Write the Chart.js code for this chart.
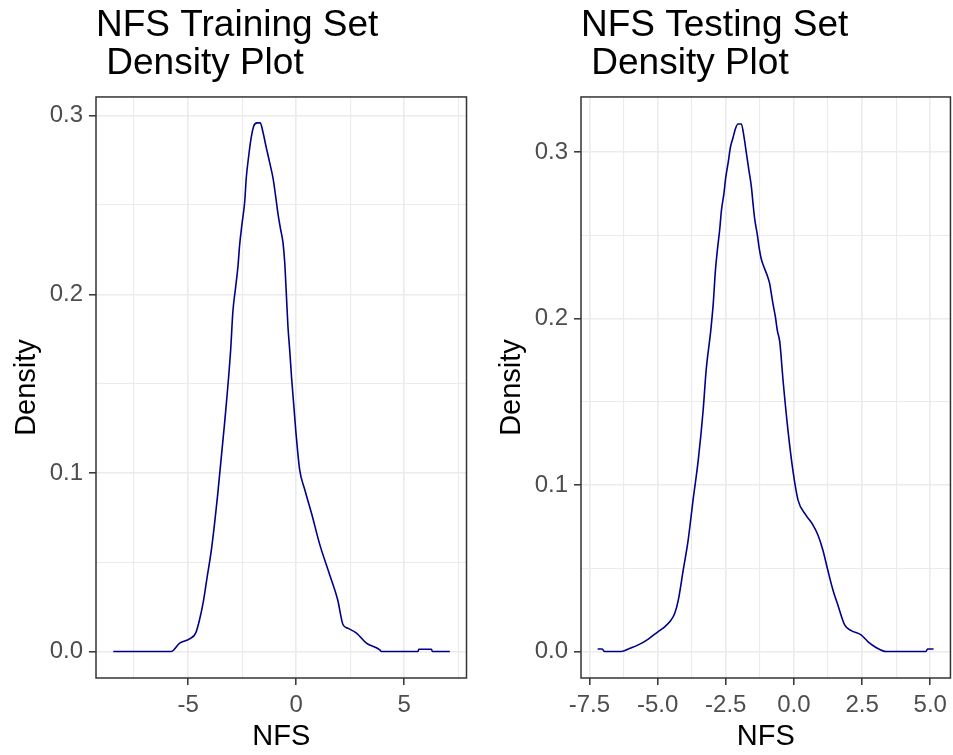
<!DOCTYPE html>
<html>
<head>
<meta charset="utf-8">
<script src="https://cdn.jsdelivr.net/npm/chart.js@4.4.1/dist/chart.umd.min.js"></script>
<style>
  html, body { margin: 0; padding: 0; background: #ffffff; }
  body { width: 953px; height: 755px; position: relative; overflow: hidden; }
  .panel { position: absolute; top: 0; height: 755px; }
</style>
</head>
<body>
<div class="panel" style="left:0px;width:476px;"><canvas id="trainChart" width="476" height="755"></canvas></div>
<div class="panel" style="left:485px;width:468px;"><canvas id="testChart" width="468" height="755"></canvas></div>
<script>
// ---- Data ----
const trainTitle = ['NFS Training Set', ' Density Plot'];
const testTitle = ['NFS Testing Set', ' Density Plot'];
const xAxisLabel = 'NFS';
const yAxisLabel = 'Density';

const trainX = [-8.46, -5.78, -5.39, -4.93, -4.65, -4.47, -4.28, -4.14, -3.91, -3.63,
  -3.31, -3.03, -2.93, -2.80, -2.69, -2.62, -2.51, -2.38, -2.31, -2.19,
  -2.09, -1.97, -1.81, -1.66, -1.54, -1.38, -1.23, -1.07, -0.95, -0.84,
  -0.73, -0.61, -0.53, -0.45, -0.38, -0.30, -0.21, -0.02, 0.16, 0.39,
  0.72, 1.09, 1.55, 1.92, 2.17, 2.40, 2.79, 3.25, 3.87, 3.94,
  5.64, 5.67, 6.26, 6.30, 7.11];
const trainY = [0, 0, 0.0047, 0.0071, 0.0103, 0.0178, 0.029, 0.040, 0.058, 0.088,
  0.128, 0.169, 0.190, 0.204, 0.216, 0.227, 0.239, 0.252, 0.265, 0.278,
  0.287, 0.294, 0.296, 0.296, 0.291, 0.282, 0.274, 0.265, 0.255, 0.245,
  0.237, 0.229, 0.218, 0.199, 0.182, 0.169, 0.153, 0.124, 0.102, 0.091,
  0.077, 0.060, 0.043, 0.029, 0.015, 0.013, 0.0103, 0.0047, 0.001, 0,
  0, 0.0013, 0.0013, 0, 0];

const testX = [-7.20, -7.03, -6.95, -6.34, -6.01, -5.71, -5.34, -4.98, -4.73, -4.55,
  -4.37, -4.24, -4.06, -3.88, -3.70, -3.51, -3.33, -3.22, -3.05, -2.96,
  -2.88, -2.81, -2.72, -2.66, -2.57, -2.50, -2.41, -2.33, -2.23, -2.15,
  -2.05, -1.93, -1.83, -1.75, -1.66, -1.56, -1.50, -1.44, -1.34, -1.28,
  -1.20, -1.10, -0.98, -0.89, -0.83, -0.77, -0.68, -0.61, -0.52, -0.40,
  -0.22, -0.04, 0.15, 0.44, 0.70, 0.88, 1.06, 1.24, 1.43, 1.61,
  1.86, 2.10, 2.46, 2.71, 3.01, 3.38, 4.84, 4.90, 5.12];
const testY = [0.0015, 0.0015, 0, 0, 0.002, 0.004, 0.0075, 0.012, 0.015, 0.018,
  0.023, 0.031, 0.049, 0.067, 0.091, 0.115, 0.145, 0.169, 0.193, 0.209,
  0.229, 0.241, 0.254, 0.265, 0.275, 0.285, 0.294, 0.303, 0.309, 0.314,
  0.317, 0.317, 0.309, 0.300, 0.290, 0.279, 0.269, 0.260, 0.250, 0.243,
  0.236, 0.231, 0.226, 0.221, 0.215, 0.209, 0.201, 0.193, 0.186, 0.163,
  0.133, 0.109, 0.091, 0.082, 0.076, 0.070, 0.061, 0.049, 0.037, 0.028,
  0.016, 0.0126, 0.010, 0.006, 0.0024, 0, 0, 0.0015, 0.0015];

// Tick values (major = labelled, minor = grid only)
const trainXMajor = [-5, 0, 5];
const trainXMinor = [-7.5, -2.5, 2.5, 7.5];
const testXMajor = [-7.5, -5, -2.5, 0, 2.5, 5];
const testXMinor = [-6.25, -3.75, -1.25, 1.25, 3.75];
const yMajor = [0, 0.1, 0.2, 0.3];
const yMinor = [0.05, 0.15, 0.25];

// Axis ranges (ggplot default 5% expansion)
const trainXRange = [-9.26, 7.88];
const testXRange = [-7.81, 5.74];
const trainYRange = [-0.0148, 0.3105];
const testYRange = [-0.0159, 0.3332];

// ---- Styling ----
const FONT = "'Liberation Sans', Arial, Helvetica, sans-serif";
const LINE_COLOR = '#00008B';
const GRID_COLOR = '#EBEBEB';
const DARK = '#333333';
const TICK_TEXT = '#4D4D4D';

const panelBorder = {
  id: 'panelBorder',
  afterDraw(chart) {
    const {ctx, chartArea: a} = chart;
    ctx.save();
    ctx.strokeStyle = DARK;
    ctx.lineWidth = 1.5;
    ctx.strokeRect(a.left, a.top, a.right - a.left, a.bottom - a.top);
    ctx.restore();
  }
};

function isMajor(v, majors) {
  return majors.some(m => Math.abs(m - v) < 1e-9);
}

function makeAxis(opts) {
  const {axis, majors, minors, range, fmt, fitSize} = opts;
  const all = majors.concat(minors).sort((a, b) => a - b);
  const horizontal = axis === 'x';
  return {
    type: 'linear',
    position: horizontal ? 'bottom' : 'left',
    min: range[0],
    max: range[1],
    afterBuildTicks: (sc) => { sc.ticks = all.map(v => ({value: v})); },
    afterFit: (sc) => { if (horizontal) sc.height = fitSize; else sc.width = fitSize; },
    ticks: {
      autoSkip: false,
      maxRotation: 0,
      minRotation: 0,
      padding: horizontal ? 5.9 : 6,
      color: TICK_TEXT,
      font: {family: FONT, size: 24, lineHeight: 1.2},
      callback: (v) => isMajor(v, majors) ? fmt(v) : ''
    },
    grid: {
      drawOnChartArea: true,
      drawTicks: true,
      tickLength: 7,
      color: GRID_COLOR,
      lineWidth: (c) => (c.tick && isMajor(c.tick.value, majors)) ? 1.6 : 1.1,
      tickColor: (c) => (c.tick && isMajor(c.tick.value, majors)) ? DARK : 'rgba(0,0,0,0)',
      tickWidth: 1.5
    },
    border: {display: false},
    title: {
      display: true,
      text: horizontal ? xAxisLabel : yAxisLabel,
      color: '#000000',
      font: {family: FONT, size: 29, lineHeight: 1.2},
      padding: horizontal ? {top: 0, bottom: 0.6} : {top: 9.3, bottom: 0}
    }
  };
}

function makeChart(canvasId, titleLines, xs, ys, xMajor, xMinor, xRange, yRange, xFmt, padRight) {
  const points = xs.map((x, i) => ({x: x, y: ys[i]}));
  return new Chart(document.getElementById(canvasId), {
    type: 'line',
    data: {
      datasets: [{
        data: points,
        borderColor: LINE_COLOR,
        borderWidth: 1.6,
        pointRadius: 0,
        cubicInterpolationMode: 'monotone',
        fill: false
      }]
    },
    options: {
      responsive: false,
      maintainAspectRatio: false,
      animation: false,
      layout: {padding: {left: 0, top: 0, bottom: 0, right: padRight}},
      plugins: {
        legend: {display: false},
        tooltip: {enabled: false},
        title: {
          display: true,
          text: titleLines,
          align: 'start',
          fullSize: false,
          color: '#000000',
          font: {family: FONT, size: 37, weight: 'normal', lineHeight: 1.013},
          padding: {top: 7.5, bottom: 14.5}
        }
      },
      scales: {
        x: makeAxis({axis: 'x', majors: xMajor, minors: xMinor, range: xRange, fmt: xFmt, fitSize: 77}),
        y: makeAxis({axis: 'y', majors: yMajor, minors: yMinor, range: yRange, fmt: v => v.toFixed(1), fitSize: 96})
      }
    },
    plugins: [panelBorder]
  });
}

makeChart('trainChart', trainTitle, trainX, trainY, trainXMajor, trainXMinor, trainXRange, trainYRange,
  v => String(v), 9.5);
makeChart('testChart', testTitle, testX, testY, testXMajor, testXMinor, testXRange, testYRange,
  v => v.toFixed(1), 1.3);
</script>
</body>
</html>
